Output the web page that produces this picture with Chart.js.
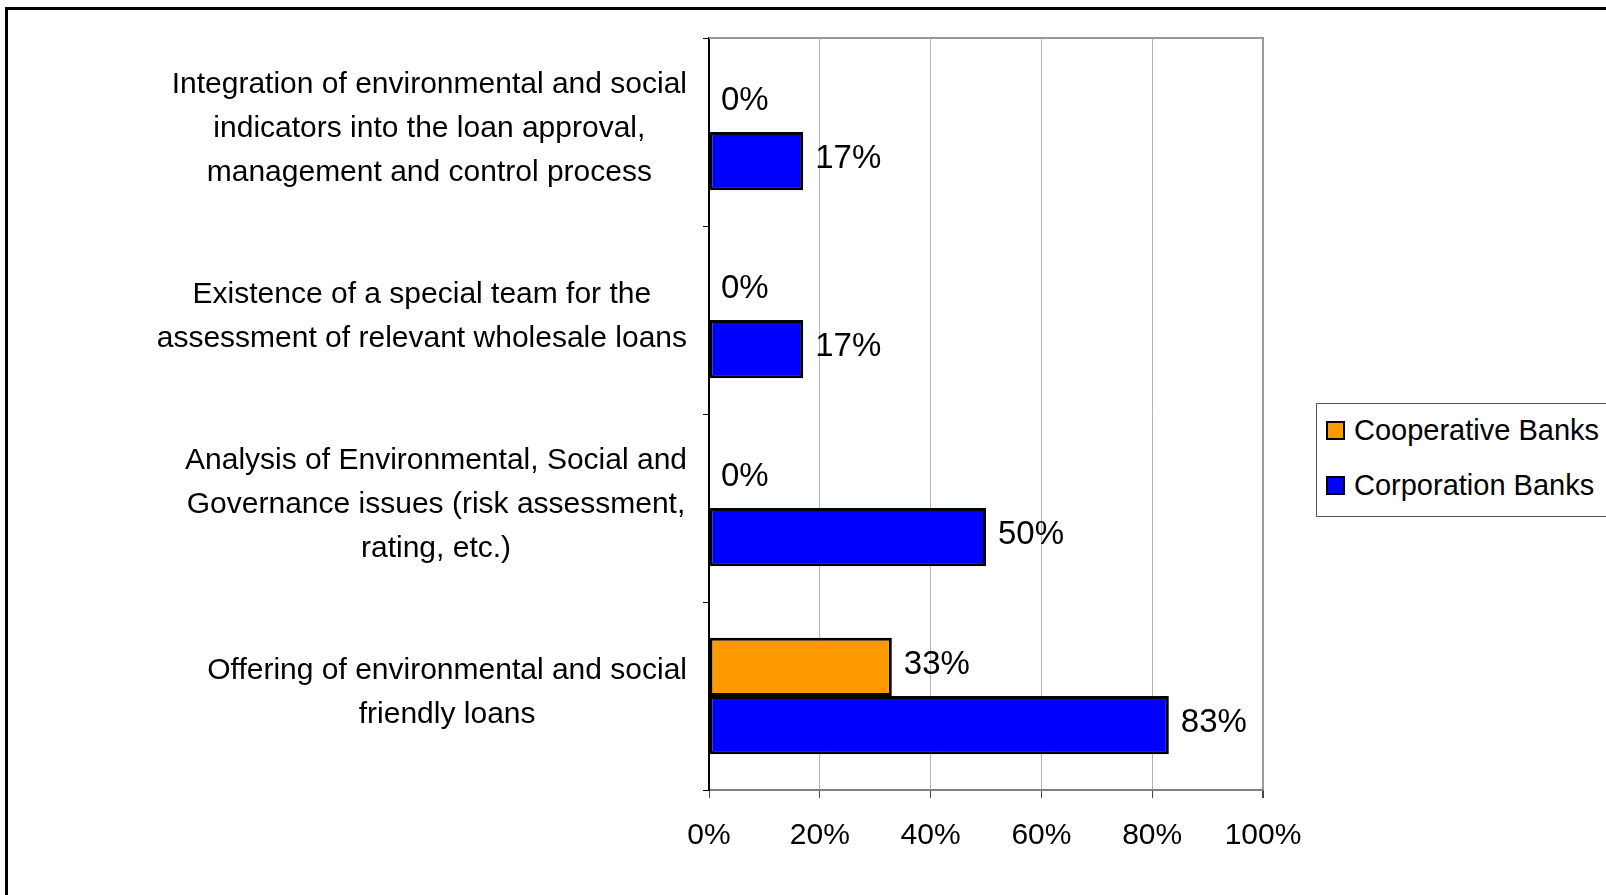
<!DOCTYPE html>
<html>
<head>
<meta charset="utf-8">
<script src="https://cdn.jsdelivr.net/npm/chart.js@4.4.1/dist/chart.umd.min.js"></script>
<style>
    body { margin: 0; overflow: hidden; background: #fff; width: 1606px; height: 895px; position: relative; }
    #frame { position: absolute; left: 5px; top: 7px; width: 2000px; height: 2000px;
             border-left: 3px solid #000; border-top: 3px solid #000; }
    #myChart { position: absolute; left: 0; top: 0; }
    #legend { position: absolute; left: 1316px; top: 403px; width: 330px; height: 112px;
              border: 1px solid #555; background: #fff; font-family: "Liberation Sans", Arial, sans-serif;
              font-size: 29px; color: #000; }
    .item { position: absolute; left: 9px; height: 36px; line-height: 36px; white-space: nowrap; }
    .item span.box { display: inline-block; width: 15px; height: 15px; border: 2px solid #000;
                     vertical-align: middle; margin-right: 9px; position: relative; top: -2px; }
</style>
</head>
<body>
<div id="frame"></div>
<canvas id="myChart" width="1606" height="895"></canvas>
<div id="legend"></div>
<script>
// Categorías (líneas de cada etiqueta), de arriba a abajo
const categories = [
    ['Integration of environmental and social', 'indicators into the loan approval,', 'management and control process'],
    ['Existence of a special team for the', 'assessment of relevant wholesale loans'],
    ['Analysis of Environmental, Social and', 'Governance issues (risk assessment,', 'rating, etc.)'],
    ['Offering of environmental and social', 'friendly loans']
];
const seriesNames = ['Cooperative Banks', 'Corporation Banks'];
const cooperativeValues = [0, 0, 0, 33];
const corporationValues = [17, 17, 50, 83];
const xTicks = [0, 20, 40, 60, 80, 100];
const colors = ['#FF9900', '#0000FF'];

const FONT = '"Liberation Sans", Arial, sans-serif';

// Etiquetas de categoría centradas en su propio bloque (como Excel)
const categoryLabels = {
    id: 'categoryLabels',
    afterDraw(chart) {
        const ctx = chart.ctx;
        const ys = chart.scales.y;
        const right = chart.chartArea.left - 22;
        ctx.save();
        ctx.font = '30px ' + FONT;
        ctx.fillStyle = '#000';
        ctx.textAlign = 'center';
        ctx.textBaseline = 'middle';
        categories.forEach((lines, i) => {
            const y = ys.getPixelForValue(i) - 3;
            const w = Math.max(...lines.map(l => ctx.measureText(l).width));
            const cx = right - w / 2;
            lines.forEach((l, j) => {
                ctx.fillText(l, cx, y + (j - (lines.length - 1) / 2) * 44);
            });
        });
        ctx.restore();
    }
};

// Valores al final de cada barra
const valueLabels = {
    id: 'valueLabels',
    afterDatasetsDraw(chart) {
        const ctx = chart.ctx;
        ctx.save();
        ctx.font = '33px ' + FONT;
        ctx.fillStyle = '#000';
        ctx.textAlign = 'left';
        ctx.textBaseline = 'middle';
        chart.data.datasets.forEach((ds, d) => {
            chart.getDatasetMeta(d).data.forEach((bar, i) => {
                ctx.fillText(ds.data[i] + '%', bar.x + 12, bar.y - 2);
            });
        });
        ctx.restore();
    }
};

// Borde superior del área de trazado
const plotFrame = {
    id: 'plotFrame',
    afterDraw(chart) {
        const {ctx, chartArea: a} = chart;
        ctx.save();
        ctx.strokeStyle = '#999';
        ctx.lineWidth = 2;
        ctx.beginPath();
        ctx.moveTo(a.left, a.top);
        ctx.lineTo(a.right + 1, a.top);
        ctx.stroke();
        ctx.restore();
    }
};

const ctx = document.getElementById('myChart').getContext('2d');
const chart = new Chart(ctx, {
    type: 'bar',
    data: {
        labels: categories.map(c => c.join(' ')),
        datasets: [
            { label: seriesNames[0], data: cooperativeValues, backgroundColor: colors[0],
              borderColor: '#000', borderWidth: 3, borderSkipped: false },
            { label: seriesNames[1], data: corporationValues, backgroundColor: colors[1],
              borderColor: '#000', borderWidth: 3, borderSkipped: false }
        ]
    },
    options: {
        indexAxis: 'y',
        responsive: false,
        devicePixelRatio: 1,
        animation: false,
        categoryPercentage: 0.62,
        barPercentage: 1.0,
        layout: { padding: { left: 703, right: 343, top: 38, bottom: 21 } },
        plugins: { legend: { display: false }, tooltip: { enabled: false } },
        scales: {
            x: {
                min: 0, max: 100,
                afterBuildTicks: s => { s.ticks = xTicks.map(v => ({ value: v })); },
                ticks: { callback: v => v + '%', color: '#000', padding: 20,
                         font: { family: FONT, size: 30 }, maxRotation: 0 },
                grid: { color: ctx => ctx.tick && ctx.tick.value === 100 ? '#999' : '#b4b4b4',
                        lineWidth: ctx => ctx.tick && ctx.tick.value === 100 ? 2 : 1,
                        tickColor: '#444', tickLength: 8 },
                border: { color: '#808080', width: 2 }
            },
            y: {
                ticks: { display: false },
                grid: { drawOnChartArea: false, tickLength: 6, tickColor: '#000' },
                border: { color: '#000', width: 2 }
            }
        }
    },
    plugins: [categoryLabels, valueLabels, plotFrame]
});

// Leyenda
const legend = document.getElementById('legend');
seriesNames.forEach((name, i) => {
    const div = document.createElement('div');
    div.className = 'item';
    div.style.top = (i === 0 ? 8 : 63) + 'px';
    div.innerHTML = '<span class="box" style="background:' + colors[i] + '"></span>' + name;
    legend.appendChild(div);
});
</script>
</body>
</html>
